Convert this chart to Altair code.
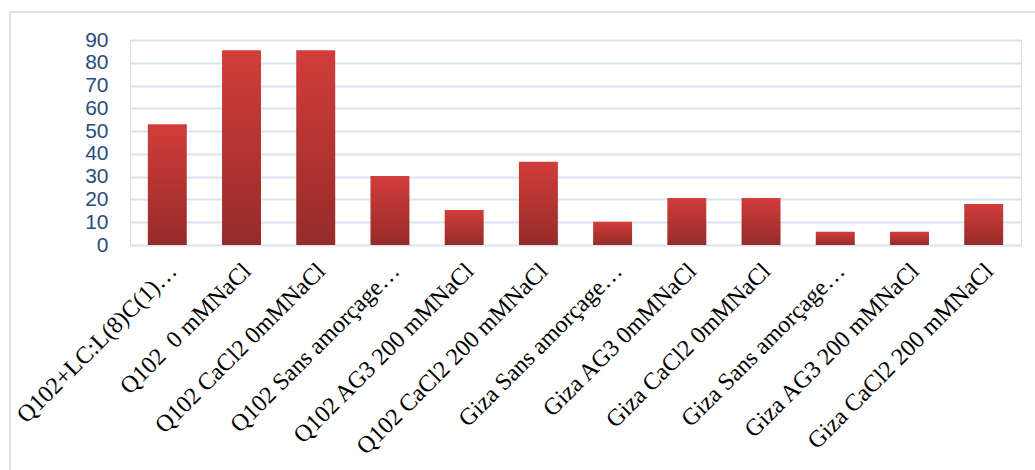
import altair as alt
import pandas as pd

categories = [
    "Q102+LC:L(8)C(1)…",
    "Q102\u00a0 0 mMNaCl",
    "Q102 CaCl2 0mMNaCl",
    "Q102 Sans amorçage…",
    "Q102 AG3 200 mMNaCl",
    "Q102 CaCl2 200 mMNaCl",
    "Giza Sans amorçage…",
    "Giza AG3 0mMNaCl",
    "Giza CaCl2 0mMNaCl",
    "Giza Sans amorçage…",
    "Giza AG3 200 mMNaCl",
    "Giza CaCl2 200 mMNaCl",
]
values = [53, 85.5, 85.5, 30.3, 15.4, 36.5, 10.2, 20.6, 20.6, 5.8, 5.8, 18]
y_ticks = [0, 10, 20, 30, 40, 50, 60, 70, 80, 90]

# make keys unique (two "Giza Sans amorçage…" entries) while keeping displayed text
keys = [f"{i:02d}" for i in range(len(categories))]
label_map = {k: c for k, c in zip(keys, categories)}
df = pd.DataFrame({"key": keys, "label": categories, "value": values})

W, H = 891, 205
label_expr = "{" + ",".join(f"'{k}':'{v}'" for k, v in label_map.items()) + "}[datum.value]"

gradient = alt.Gradient(
    gradient="linear",
    stops=[
        alt.GradientStop(color="#D13D3A", offset=0),
        alt.GradientStop(color="#962B29", offset=1),
    ],
    x1=0, x2=0, y1=0, y2=1,
)

bars = alt.Chart(df).mark_bar(color=gradient).encode(
    x=alt.X(
        "key:N",
        sort=None,
        scale=alt.Scale(paddingInner=0.475, paddingOuter=0.24),
        axis=alt.Axis(
            title=None,
            labelAngle=-45,
            labelAlign="right",
            labelBaseline="middle",
            labelFont="Liberation Serif",
            labelFontSize=24,
            labelColor="#000000",
            labelPadding=22,
            labelOffset=6,
            labelLimit=500,
            labelExpr=label_expr,
            ticks=False,
            domain=False,
            grid=False,
        ),
    ),
    y=alt.Y(
        "value:Q",
        scale=alt.Scale(domain=[0, 90], nice=False),
        axis=alt.Axis(
            title=None,
            values=y_ticks,
            labelFont="Liberation Sans",
            labelFontSize=21,
            labelColor="#2A4C7D",
            labelPadding=22,
            ticks=False,
            domain=False,
            grid=True,
            gridColor="#D7E3F3",
            gridWidth=2,
        ),
    ),
)

border_color = "#D6E3F3"
left_border = alt.Chart(df).mark_rule(color=border_color, strokeWidth=2).encode(
    x=alt.value(-120), y=alt.value(-28), y2=alt.value(H + 240)
)
top_border = alt.Chart(df).mark_rule(color=border_color, strokeWidth=2).encode(
    x=alt.value(-120), x2=alt.value(W + 40), y=alt.value(-28)
)

chart = alt.layer(left_border, top_border, bars).properties(
    width=W,
    height=H,
    autosize=alt.AutoSizeParams(type="none"),
    padding={"left": 130, "top": 40, "right": 14, "bottom": 225},
).configure_view(stroke=None).configure(background="white")

chart.save("out.html", embed_options={"renderer": "svg", "actions": False})
